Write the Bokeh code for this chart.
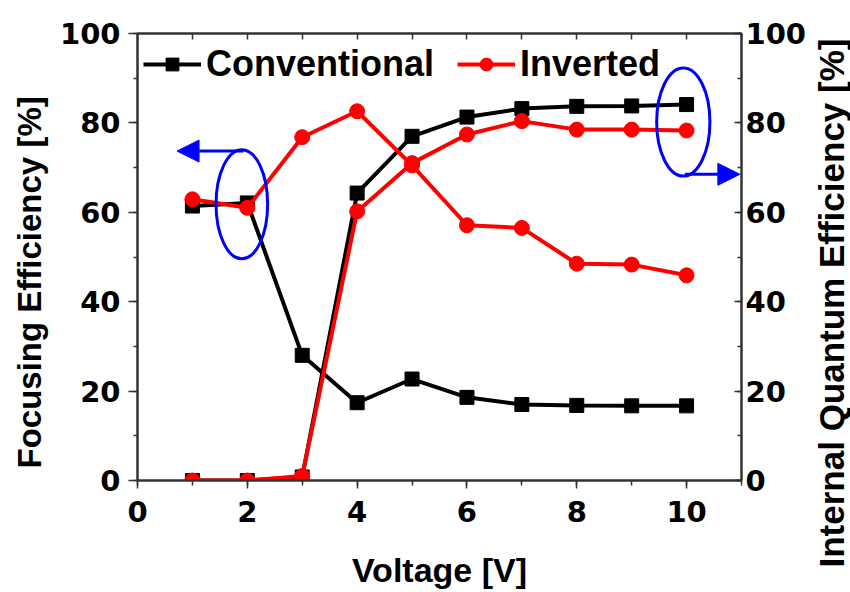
import math
from bokeh.plotting import figure
from bokeh.layouts import row
from bokeh.models import (Range1d, LinearAxis, SingleIntervalTicker, Legend, LegendItem,
                          Arrow, NormalHead, CustomJSTickFormatter, Title)
from bokeh.embed import file_html
from bokeh.resources import INLINE

# ---------------- data ----------------
voltage = [1, 2, 3, 4, 5, 6, 7, 8, 9, 10]
conv_focusing = [61.4, 62.1, 28.0, 17.4, 22.7, 18.6, 17.0, 16.8, 16.7, 16.7]
conv_iqe = [0.0, 0.0, 0.8, 64.3, 77.0, 81.3, 83.2, 83.7, 83.8, 84.1]
inv_focusing = [62.9, 61.0, 76.8, 82.6, 70.5, 57.1, 56.5, 48.5, 48.3, 45.9]
inv_iqe = [0.0, 0.0, 1.0, 60.2, 71.0, 77.4, 80.4, 78.5, 78.5, 78.3]

series_labels = ["Conventional", "Inverted"]
x_label = "Voltage [V]"
y_left_label = "Focusing Efficiency [%]"
y_right_label = "Internal Quantum Efficiency [%]"

# annotation ellipses (centre x, centre y, width, height) in data units
ellipse_x = [1.9, 9.94]
ellipse_y = [61.8, 80.2]
ellipse_w = [0.94, 0.97]
ellipse_h = [24.4, 24.2]
# annotation arrows (start -> end) in data units
arrow_left = (1.93, 73.7, 0.72, 73.7)
arrow_right = (9.97, 68.5, 10.97, 68.5)

BLACK = "#000000"
RED = "#ff0000"
BLUE = "#0000ff"
AXIS_COLOR = "#333333"
TICK_FONT = "DejaVu Sans"
TITLE_FONT = "Liberation Sans"

p = figure(frame_width=604, frame_height=447,
           x_range=Range1d(0, 11), y_range=Range1d(0, 100),
           output_backend="svg", toolbar_location=None,
           min_border_left=137, min_border_top=33, min_border_right=65,
           min_border_bottom=0,
           background_fill_color="white", border_fill_color="white")
p.extra_y_ranges = {"iqe": Range1d(0, 100)}
p.xgrid.visible = False
p.ygrid.visible = False
p.outline_line_color = AXIS_COLOR
p.outline_line_width = 2


def style_axis(ax):
    ax.axis_line_color = AXIS_COLOR
    ax.axis_line_width = 2
    ax.major_tick_line_color = AXIS_COLOR
    ax.minor_tick_line_color = AXIS_COLOR
    ax.major_tick_line_width = 1.5
    ax.minor_tick_line_width = 1.5
    ax.major_label_text_font = TICK_FONT
    ax.major_label_text_font_style = "bold"
    ax.major_label_text_font_size = "29px"
    ax.major_label_text_color = "black"
    ax.axis_label_text_font = TITLE_FONT
    ax.axis_label_text_font_style = "bold"
    ax.axis_label_text_color = "black"


# bottom axis
xa = p.xaxis[0]
xa.ticker = SingleIntervalTicker(interval=2, num_minor_ticks=2)
style_axis(xa)
xa.major_tick_out = 8
xa.major_tick_in = 0
xa.minor_tick_out = 5
xa.minor_tick_in = 0
xa.major_label_standoff = 12
xa.axis_label = x_label
xa.axis_label_text_font_size = "34px"
xa.axis_label_standoff = 26

# left axis
ya = p.yaxis[0]
ya.ticker = SingleIntervalTicker(interval=20, num_minor_ticks=2)
style_axis(ya)
ya.major_tick_out = 9
ya.major_tick_in = 0
ya.minor_tick_out = 4
ya.minor_tick_in = 0
ya.major_label_standoff = 8

# top axis (ticks only, pointing inward)
top = LinearAxis(ticker=SingleIntervalTicker(interval=1, num_minor_ticks=0),
                 formatter=CustomJSTickFormatter(code="return ''"))
style_axis(top)
top.major_tick_in = 6
top.major_tick_out = 0
top.minor_tick_in = 0
top.minor_tick_out = 0
top.major_label_text_font_size = "1px"
top.major_label_standoff = 0
p.add_layout(top, "above")

# right axis
ra = LinearAxis(y_range_name="iqe", ticker=SingleIntervalTicker(interval=20, num_minor_ticks=2))
style_axis(ra)
ra.major_tick_in = 7
ra.major_tick_out = 0
ra.minor_tick_in = 4
ra.minor_tick_out = 0
ra.major_label_standoff = 4
p.add_layout(ra, "right")

# left axis title (reads bottom-to-top), starts a little above the frame bottom
p.add_layout(Title(text=y_left_label, align="left", offset=12, standoff=17,
                   text_font=TITLE_FONT, text_font_style="bold", text_font_size="33px",
                   text_color="black"), "left")

# ---------------- data series ----------------
cl1 = p.line(voltage, conv_focusing, line_color=BLACK, line_width=4)
cs1 = p.scatter(voltage, conv_focusing, marker="square", size=14, fill_color=BLACK, line_color=BLACK)
cl2 = p.line(voltage, conv_iqe, line_color=BLACK, line_width=4, y_range_name="iqe")
cs2 = p.scatter(voltage, conv_iqe, marker="square", size=14, fill_color=BLACK, line_color=BLACK,
                y_range_name="iqe")

rl1 = p.line(voltage, inv_focusing, line_color=RED, line_width=4)
rs1 = p.scatter(voltage, inv_focusing, marker="circle", size=15, fill_color=RED, line_color=RED)
rl2 = p.line(voltage, inv_iqe, line_color=RED, line_width=4, y_range_name="iqe")
rs2 = p.scatter(voltage, inv_iqe, marker="circle", size=15, fill_color=RED, line_color=RED,
                y_range_name="iqe")

# ---------------- blue annotations ----------------
p.ellipse(x=ellipse_x, y=ellipse_y, width=ellipse_w, height=ellipse_h,
          fill_alpha=0, line_color=BLUE, line_width=3)
for (xs, ys, xe, ye) in (arrow_left, arrow_right):
    p.add_layout(Arrow(end=NormalHead(size=22, fill_color=BLUE, line_color=BLUE),
                       x_start=xs, y_start=ys, x_end=xe, y_end=ye,
                       line_color=BLUE, line_width=3))

# ---------------- legend ----------------
legend = Legend(items=[LegendItem(label=series_labels[0], renderers=[cl1, cs1]),
                       LegendItem(label=series_labels[1], renderers=[rl1, rs1])],
                location=(-2, 387), orientation="horizontal", margin=0, padding=8,
                spacing=23, glyph_width=58, glyph_height=32, label_standoff=5,
                label_text_font=TITLE_FONT, label_text_font_style="bold",
                label_text_font_size="36px", label_text_color="black",
                border_line_alpha=0, background_fill_alpha=0)
p.add_layout(legend)

# ---------------- right axis title strip (reads bottom-to-top) ----------------
strip = figure(frame_width=1, frame_height=447, x_range=Range1d(0, 1), y_range=Range1d(0, 1),
               output_backend="svg", toolbar_location=None,
               x_axis_location=None, y_axis_location=None,
               min_border_left=0, min_border_right=0, min_border_top=33, min_border_bottom=112,
               background_fill_color="white", border_fill_color="white")
strip.outline_line_color = None
strip.xgrid.visible = False
strip.ygrid.visible = False
strip.add_layout(Title(text=y_right_label, align="left", offset=-87, standoff=0,
                       text_font=TITLE_FONT, text_font_style="bold", text_font_size="35px",
                       text_color="black"), "left")

layout = row(p, strip, spacing=0)

open("out.html", "w").write(file_html(layout, INLINE))
